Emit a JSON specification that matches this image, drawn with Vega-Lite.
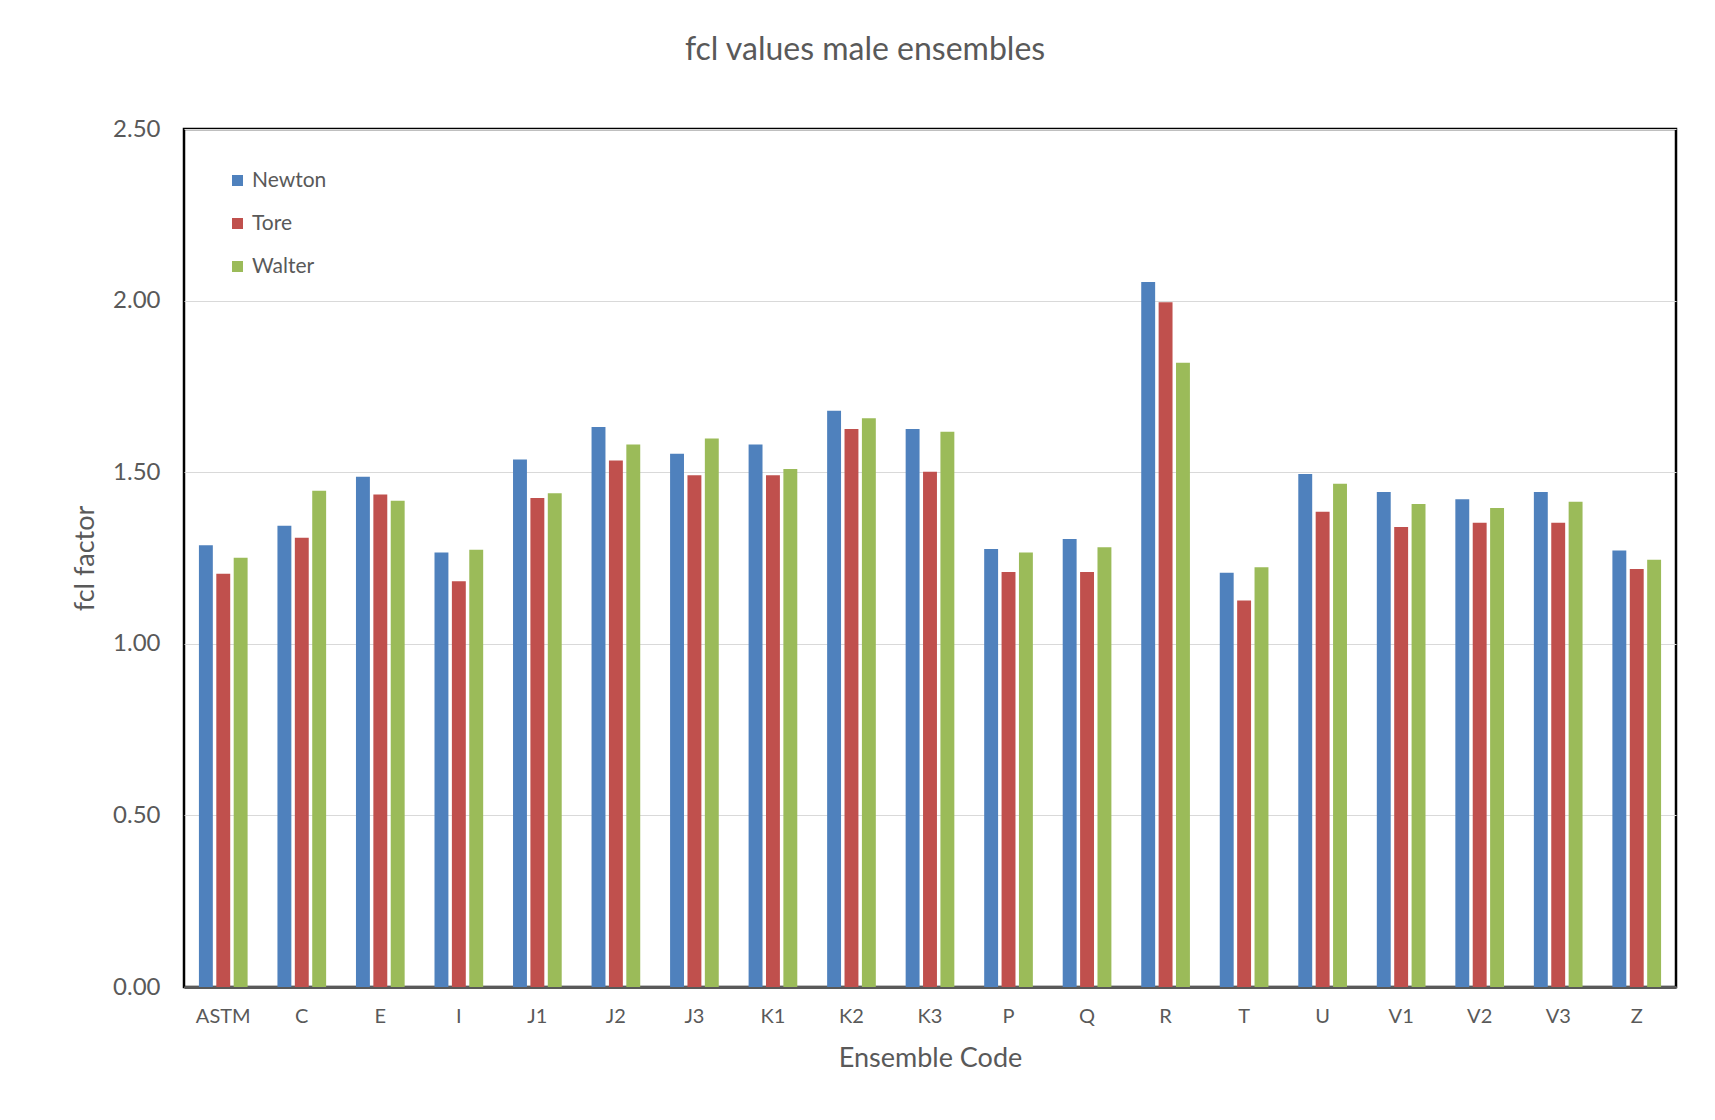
{
  "$schema": "https://vega.github.io/schema/vega-lite/v6.json",
  "autosize": {"type": "none"},
  "width": 1492,
  "height": 858,
  "padding": {"left": 184, "top": 129, "right": 39, "bottom": 133},
  "background": "white",
  "title": {
    "text": "fcl values male ensembles",
    "font": "Lato",
    "fontSize": 32,
    "fontWeight": "normal",
    "color": "#595959",
    "anchor": "middle",
    "dx": -65,
    "offset": 50
  },
  "config": {
    "font": "Lato",
    "view": {"stroke": "#000000", "strokeWidth": 2.5},
    "axis": {"labelFont": "Lato", "titleFont": "Lato", "labelColor": "#595959", "titleColor": "#595959", "titleFontWeight": "normal"}
  },
  "data": {
    "values": [
      {"code": "ASTM", "series": "Newton", "value": 1.287},
      {"code": "ASTM", "series": "Tore", "value": 1.204},
      {"code": "ASTM", "series": "Walter", "value": 1.251},
      {"code": "C", "series": "Newton", "value": 1.344},
      {"code": "C", "series": "Tore", "value": 1.309},
      {"code": "C", "series": "Walter", "value": 1.446},
      {"code": "E", "series": "Newton", "value": 1.487},
      {"code": "E", "series": "Tore", "value": 1.435},
      {"code": "E", "series": "Walter", "value": 1.417},
      {"code": "I", "series": "Newton", "value": 1.266},
      {"code": "I", "series": "Tore", "value": 1.182},
      {"code": "I", "series": "Walter", "value": 1.274},
      {"code": "J1", "series": "Newton", "value": 1.537},
      {"code": "J1", "series": "Tore", "value": 1.425},
      {"code": "J1", "series": "Walter", "value": 1.439},
      {"code": "J2", "series": "Newton", "value": 1.632},
      {"code": "J2", "series": "Tore", "value": 1.534},
      {"code": "J2", "series": "Walter", "value": 1.581},
      {"code": "J3", "series": "Newton", "value": 1.554},
      {"code": "J3", "series": "Tore", "value": 1.491},
      {"code": "J3", "series": "Walter", "value": 1.598},
      {"code": "K1", "series": "Newton", "value": 1.581},
      {"code": "K1", "series": "Tore", "value": 1.491},
      {"code": "K1", "series": "Walter", "value": 1.509},
      {"code": "K2", "series": "Newton", "value": 1.679},
      {"code": "K2", "series": "Tore", "value": 1.626},
      {"code": "K2", "series": "Walter", "value": 1.657},
      {"code": "K3", "series": "Newton", "value": 1.626},
      {"code": "K3", "series": "Tore", "value": 1.501},
      {"code": "K3", "series": "Walter", "value": 1.618},
      {"code": "P", "series": "Newton", "value": 1.276},
      {"code": "P", "series": "Tore", "value": 1.209},
      {"code": "P", "series": "Walter", "value": 1.266},
      {"code": "Q", "series": "Newton", "value": 1.305},
      {"code": "Q", "series": "Tore", "value": 1.209},
      {"code": "Q", "series": "Walter", "value": 1.281},
      {"code": "R", "series": "Newton", "value": 2.054},
      {"code": "R", "series": "Tore", "value": 1.995},
      {"code": "R", "series": "Walter", "value": 1.819},
      {"code": "T", "series": "Newton", "value": 1.207},
      {"code": "T", "series": "Tore", "value": 1.126},
      {"code": "T", "series": "Walter", "value": 1.223},
      {"code": "U", "series": "Newton", "value": 1.495},
      {"code": "U", "series": "Tore", "value": 1.385},
      {"code": "U", "series": "Walter", "value": 1.466},
      {"code": "V1", "series": "Newton", "value": 1.442},
      {"code": "V1", "series": "Tore", "value": 1.340},
      {"code": "V1", "series": "Walter", "value": 1.407},
      {"code": "V2", "series": "Newton", "value": 1.421},
      {"code": "V2", "series": "Tore", "value": 1.353},
      {"code": "V2", "series": "Walter", "value": 1.396},
      {"code": "V3", "series": "Newton", "value": 1.442},
      {"code": "V3", "series": "Tore", "value": 1.353},
      {"code": "V3", "series": "Walter", "value": 1.414},
      {"code": "Z", "series": "Newton", "value": 1.272},
      {"code": "Z", "series": "Tore", "value": 1.218},
      {"code": "Z", "series": "Walter", "value": 1.245}
    ]
  },
  "mark": {"type": "bar"},
  "encoding": {
    "x": {
      "field": "code",
      "type": "nominal",
      "sort": null,
      "scale": {"paddingInner": 0.38, "paddingOuter": 0.19},
      "axis": {
        "title": "Ensemble Code",
        "titleFontSize": 27,
        "titleY": 71,
        "titleBaseline": "middle",
        "labelAngle": 0,
        "labelFontSize": 20,
        "labelPadding": 19,
        "ticks": false,
        "domain": true,
        "domainColor": "#595959",
        "domainWidth": 3,
        "grid": false
      }
    },
    "xOffset": {
      "field": "series",
      "type": "nominal",
      "scale": {"paddingInner": 0.2}
    },
    "y": {
      "field": "value",
      "type": "quantitative",
      "scale": {"domain": [0, 2.5], "nice": false},
      "axis": {
        "title": "fcl factor",
        "titleFontSize": 27,
        "titleX": -99,
        "titleY": 429,
        "titleAngle": -90,
        "titleBaseline": "middle",
        "titleAlign": "center",
        "values": [0, 0.5, 1, 1.5, 2, 2.5],
        "format": ".2f",
        "labelFontSize": 24,
        "labelPadding": 24,
        "ticks": false,
        "domain": false,
        "grid": true,
        "gridColor": "#d9d9d9",
        "gridWidth": 1.2
      }
    },
    "color": {
      "field": "series",
      "type": "nominal",
      "scale": {"domain": ["Newton", "Tore", "Walter"], "range": ["#4f81bd", "#c0504d", "#9bbb59"]},
      "legend": {
        "title": null,
        "orient": "none",
        "legendX": 43,
        "legendY": 41,
        "symbolType": "square",
        "symbolSize": 121,
        "symbolStrokeWidth": 0,
        "labelFontSize": 21,
        "labelColor": "#595959",
        "labelOffset": 4,
        "rowPadding": 21
      }
    }
  }
}
